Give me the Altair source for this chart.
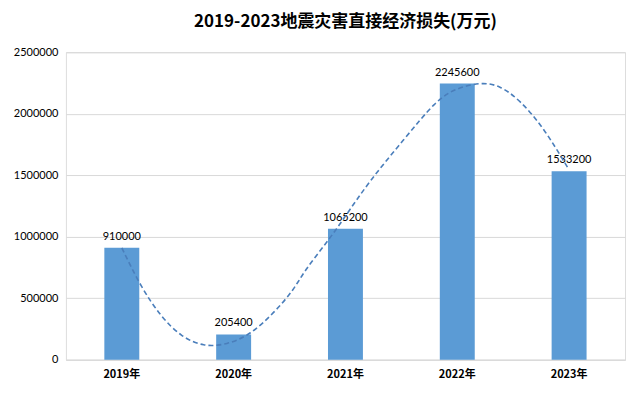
import altair as alt
import pandas as pd

years = ["2019年", "2020年", "2021年", "2022年", "2023年"]
values = [910000, 205400, 1065200, 2245600, 1533200]

# dashed trend curve (year position, value)
trend_x = [2019.0, 2019.17, 2019.35, 2019.53, 2019.73, 2019.94, 2020.15, 2020.36,
           2020.54, 2020.63, 2020.83, 2020.98, 2021.22, 2021.52, 2021.81, 2021.99,
           2022.21, 2022.38, 2022.56, 2022.77, 2022.99]
trend_y = [909000, 592000, 349000, 187000, 105000, 122000, 203000, 381000,
           570000, 720000, 950000, 1140000, 1461000, 1786000, 2110000, 2208000,
           2256000, 2232000, 2110000, 1891000, 1558000]

df = pd.DataFrame({"year": years, "value": values})
tdf = pd.DataFrame({"x": trend_x, "y": trend_y})

yscale = alt.Scale(domain=[0, 2500000])

bars = alt.Chart(df).mark_bar(color="#5B9BD5", size=35).encode(
    x=alt.X("year:N", sort=years, title=None,
            scale=alt.Scale(paddingInner=0, paddingOuter=0),
            axis=alt.Axis(labelAngle=0, labelFont="Noto Sans CJK SC", labelFontWeight="bold",
                          labelFontSize=11, labelColor="#000000", labelPadding=9,
                          ticks=False, domainColor="#D9D9D9")),
    y=alt.Y("value:Q", scale=yscale, title=None,
            axis=alt.Axis(values=[0, 500000, 1000000, 1500000, 2000000, 2500000],
                          format="d", labelFont="Lato", labelFontSize=11, labelColor="#000000",
                          domain=False, ticks=False, gridColor="#D9D9D9", labelPadding=8,
                          minExtent=49, maxExtent=49)),
)

labels = alt.Chart(df).mark_text(baseline="bottom", dy=-6, font="Lato", fontSize=11,
                                 color="#000000").encode(
    x=alt.X("year:N", sort=years),
    y=alt.Y("value:Q", scale=yscale),
    text=alt.Text("value:Q", format="d"),
)

trend = alt.Chart(tdf).mark_line(color="#4A7EBB", strokeDash=[5, 3], strokeWidth=1.6,
                                 interpolate="basis").encode(
    x=alt.X("x:Q", scale=alt.Scale(domain=[2018.5, 2023.5], nice=False, zero=False), axis=None),
    y=alt.Y("y:Q", scale=yscale),
)

base = alt.layer(bars, labels)
chart = alt.layer(base, trend).resolve_scale(x="independent").properties(
    width=560, height=308,
    title=alt.TitleParams("2019-2023地震灾害直接经济损失(万元)", font="Noto Sans CJK SC",
                          fontSize=17, fontWeight="bold", color="#000000", offset=15,
                          anchor="middle"),
).configure_view(stroke=None).configure(background="white")

chart.save("out.html", embed_options={"renderer": "svg", "actions": False})
